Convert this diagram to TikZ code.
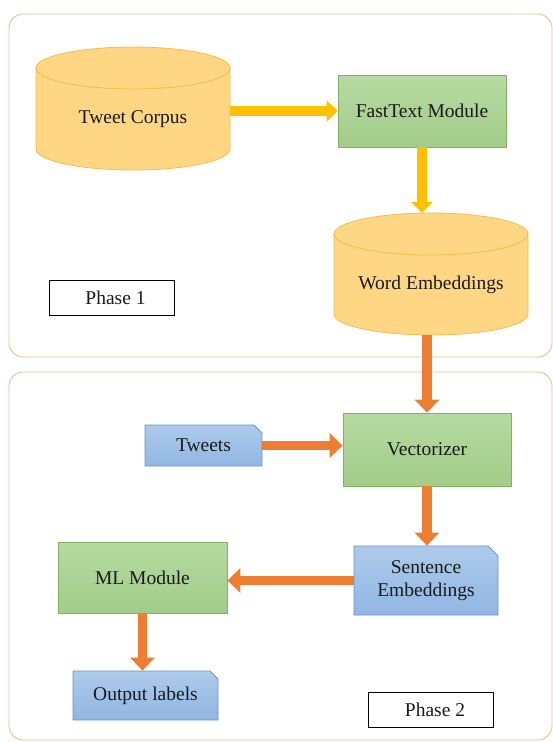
\documentclass[tikz,border=0pt]{standalone}
\usepackage{fontspec}
\setmainfont{Liberation Serif}
\usetikzlibrary{arrows.meta,shapes.misc}
\definecolor{framec}{HTML}{EDBE94}
\definecolor{cylfill}{HTML}{FFD684}
\definecolor{cyledge}{HTML}{F2BE4A}
\definecolor{greentop}{HTML}{B6DAA2}
\definecolor{greenbot}{HTML}{A2CC88}
\definecolor{greenedge}{HTML}{7FB263}
\definecolor{bluetop}{HTML}{ADCBEB}
\definecolor{bluebot}{HTML}{90B6E2}
\definecolor{blueedge}{HTML}{6D93C6}
\definecolor{arrowy}{HTML}{FFC000}
\definecolor{arrowo}{HTML}{ED7D31}
\definecolor{txt}{HTML}{1A1A1A}
\tikzset{
  frame/.style={draw=framec, line width=0.9pt, rounded corners=14pt},
  cyl/.style={fill=cylfill, draw=cyledge, line width=0.8pt},
  cyltext/.style={rectangle, inner sep=0pt, text=txt},
  greenbox/.style={rectangle, draw=greenedge, line width=0.8pt, top color=greentop, bottom color=greenbot, inner sep=0pt, text=txt},
  bluebox/.style={chamfered rectangle, chamfered rectangle corners=north east, draw=blueedge, line width=0.8pt, top color=bluetop, bottom color=bluebot, inner sep=0pt, align=center, text=txt},
  phasebox/.style={rectangle, draw=black, line width=0.8pt, fill=white, inner sep=0pt, text=txt},
  yarrow/.style={draw=arrowy, line width=10pt, -{Triangle[width=21pt,length=11pt]}},
  oarrow/.style={draw=arrowo, line width=9.5pt, -{Triangle[width=24pt,length=13pt]}}
}
\begin{document}
\begin{tikzpicture}[x=1pt,y=1pt,font=\fontsize{19.5}{23}\selectfont]
\useasboundingbox (0,0) rectangle (553,-742);
\fill[white] (0,0) rectangle (553,-742);
% frames
\draw[frame] (9,-14) rectangle (552,-357);
\draw[frame] (9,-372) rectangle (552,-740);
% Tweet Corpus cylinder
\draw[cyl] (36,-68) -- (36,-149) arc[start angle=180,end angle=360,x radius=97,y radius=21]
  -- (230,-68) arc[start angle=0,end angle=180,x radius=97,y radius=21] -- cycle;
\draw[draw=cyledge, line width=0.8pt] (36,-68) arc[start angle=180,end angle=360,x radius=97,y radius=21];
\node[cyltext, minimum width=194pt, minimum height=102pt] (tc) at (133,-119) {Tweet Corpus};
% Word Embeddings cylinder
\draw[cyl] (334,-234) -- (334,-314) arc[start angle=180,end angle=360,x radius=97,y radius=21]
  -- (528,-234) arc[start angle=0,end angle=180,x radius=97,y radius=21] -- cycle;
\draw[draw=cyledge, line width=0.8pt] (334,-234) arc[start angle=180,end angle=360,x radius=97,y radius=21];
\node[cyltext, minimum width=194pt, minimum height=101pt] (we) at (431,-284.5) {Word Embeddings};
\coordinate (wetop) at (431,-213);
% boxes
\node[greenbox, minimum width=168pt, minimum height=72pt] (ft) at (422,-111) {FastText Module};
\node[greenbox, minimum width=168pt, minimum height=73pt] (vec) at (427,-449.5) {Vectorizer};
\node[greenbox, minimum width=169pt, minimum height=71pt] (ml) at (142.5,-577.5) {ML Module};
\node[bluebox, chamfered rectangle xsep=4pt, chamfered rectangle ysep=4pt, minimum width=117pt, minimum height=41pt] (tw) at (203.5,-445.5) {Tweets};
\node[bluebox, chamfered rectangle xsep=5pt, chamfered rectangle ysep=5pt, minimum width=144pt, minimum height=69pt] (se) at (426,-580.5) {Sentence\\Embeddings};
\node[bluebox, chamfered rectangle xsep=4pt, chamfered rectangle ysep=4pt, minimum width=145pt, minimum height=49pt] (ol) at (145.5,-695.5) {Output labels};
\node[phasebox, minimum width=125pt, minimum height=35pt] (p1) at (111.5,-297.5) {\hspace*{8pt}Phase 1};
\node[phasebox, minimum width=125pt, minimum height=35pt] (p2) at (430.5,-709.5) {\hspace*{9pt}Phase 2};
% arrows
\draw[yarrow] (tc.east |- ft.west) -- (ft.west);
\draw[yarrow] (ft.south) -- (ft.south |- wetop);
\draw[oarrow] (vec.north |- we.south) -- (vec.north);
\draw[oarrow] (tw.east) -- (tw.east -| vec.west);
\draw[oarrow] (vec.south) -- (vec.south |- se.north);
\draw[oarrow] (se.west) -- (se.west -| ml.east);
\draw[oarrow] (ml.south) -- (ml.south |- ol.north);
\end{tikzpicture}
\end{document}
